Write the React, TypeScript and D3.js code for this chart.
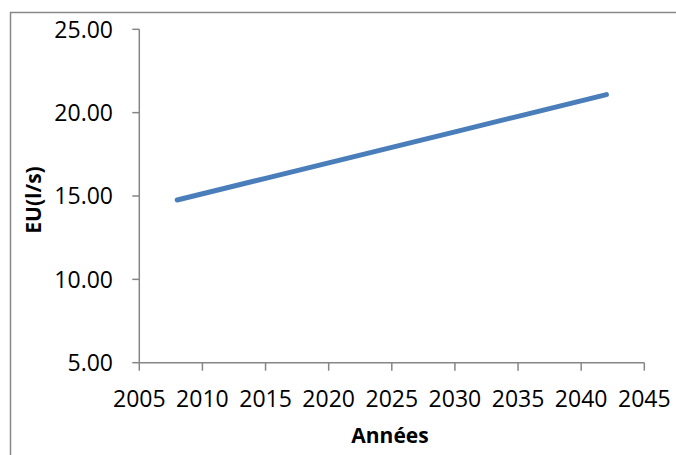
import React from "react";
import * as d3 from "d3";

// Wastewater flow projection (EU, l/s) by year
const years = [2008, 2015, 2020, 2025, 2030, 2035, 2042];
const flows = [14.76, 16.06, 16.99, 17.92, 18.85, 19.78, 21.08];

const xTicks = [2005, 2010, 2015, 2020, 2025, 2030, 2035, 2040, 2045];
const yTicks = [5, 10, 15, 20, 25];

const W = 676;
const H = 455;
const plot = { left: 139.3, right: 644.3, top: 29.3, bottom: 362.7 };

export default function App() {
  const x = d3.scaleLinear().domain([2005, 2045]).range([plot.left, plot.right]);
  const y = d3.scaleLinear().domain([5, 25]).range([plot.bottom, plot.top]);
  const pts = years.map((yr, i) => [yr, flows[i]] as [number, number]);
  const line = d3
    .line<[number, number]>()
    .x((d) => x(d[0]))
    .y((d) => y(d[1]));

  const axisColor = "#868686";
  const font = "'Open Sans', 'Liberation Sans', sans-serif";

  return (
    <div style={{ position: "fixed", left: 0, top: 0 }}>
      <svg width={W} height={H} style={{ display: "block", background: "#fff" }}>
        {/* chart frame */}
        <rect x={10.5} y={12.5} width={W + 20} height={H + 20} fill="none" stroke="#898989" strokeWidth={1.5} />

        {/* y axis */}
        <line x1={plot.left} x2={plot.left} y1={plot.top} y2={plot.bottom} stroke={axisColor} strokeWidth={1.5} />
        {yTicks.map((t) => (
          <g key={"y" + t}>
            <line x1={plot.left - 7} x2={plot.left} y1={y(t)} y2={y(t)} stroke={axisColor} strokeWidth={1.5} />
            <text
              x={113}
              y={y(t)}
              dy="0.36em"
              textAnchor="end"
              fontFamily={font}
              fontSize={23}
              fill="#000"
            >
              {t.toFixed(2)}
            </text>
          </g>
        ))}

        {/* x axis */}
        <line x1={plot.left} x2={plot.right} y1={plot.bottom} y2={plot.bottom} stroke={axisColor} strokeWidth={1.5} />
        {xTicks.map((t) => (
          <g key={"x" + t}>
            <line x1={x(t)} x2={x(t)} y1={plot.bottom} y2={plot.bottom + 8} stroke={axisColor} strokeWidth={1.5} />
            <text
              x={x(t)}
              y={407}
              textAnchor="middle"
              fontFamily={font}
              fontSize={23}
              fill="#000"
            >
              {t}
            </text>
          </g>
        ))}

        {/* axis titles */}
        <text x={390} y={443} textAnchor="middle" fontFamily={font} fontSize={21} fontWeight="bold" fill="#000">
          Années
        </text>
        <text
          transform={`translate(41,200) rotate(-90)`}
          textAnchor="middle"
          fontFamily={font}
          fontSize={21}
          fontWeight="bold"
          fill="#000"
        >
          EU(l/s)
        </text>

        {/* series */}
        <path d={line(pts) || ""} fill="none" stroke="#4A7EBB" strokeWidth={5} strokeLinecap="round" />
      </svg>
    </div>
  );
}
